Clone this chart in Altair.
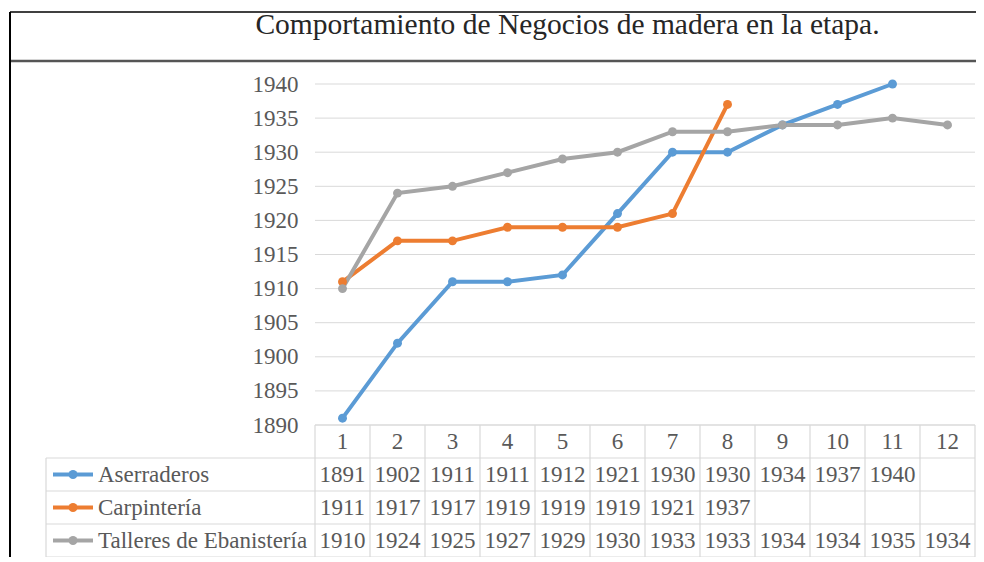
import altair as alt
import pandas as pd

# ---------------- data ----------------
categories = [1, 2, 3, 4, 5, 6, 7, 8, 9, 10, 11, 12]
series_names = ["Aserraderos", "Carpintería", "Talleres de Ebanistería"]
aserraderos = [1891, 1902, 1911, 1911, 1912, 1921, 1930, 1930, 1934, 1937, 1940]
carpinteria = [1911, 1917, 1917, 1919, 1919, 1919, 1921, 1937]
talleres = [1910, 1924, 1925, 1927, 1929, 1930, 1933, 1933, 1934, 1934, 1935, 1934]
y_ticks = [1890, 1895, 1900, 1905, 1910, 1915, 1920, 1925, 1930, 1935, 1940]
colors = ["#5b9bd5", "#ed7d31", "#a5a5a5"]
title_text = "Comportamiento de Negocios de madera en la etapa."

# ---------------- layout (pixels) ----------------
COL_W = 55
N = len(categories)
LEG_W = 269
PLOT_H = 341
ROW_H = 33
N_ROWS = 1 + len(series_names)
W = LEG_W + N * COL_W
H = PLOT_H + N_ROWS * ROW_H
L = LEG_W / COL_W  # legend column width in column units

FONT = "'Liberation Serif', 'Times New Roman', 'DejaVu Serif', serif"
FS = 23
TXT = "#595959"
GRID = "#d9d9d9"

series_values = [aserraderos, carpinteria, talleres]

long_rows = []
for s, (name, vals) in enumerate(zip(series_names, series_values)):
    for c, v in zip(categories, vals):
        long_rows.append({"series": name, "cat": c, "pos": c - 0.5, "value": v})
df_lines = pd.DataFrame(long_rows)

x_scale = alt.Scale(domain=[-L, N], range=[0, W], nice=False, zero=False)
color_scale = alt.Scale(domain=series_names, range=colors)

# ---------------- line chart ----------------
y_scale = alt.Scale(domain=[y_ticks[0], y_ticks[-1]], range=[PLOT_H, 0], nice=False, zero=False)

df_grid = pd.DataFrame({"tick": y_ticks, "x0": 0, "x1": N})
grid = alt.Chart(df_grid).mark_rule(color=GRID, strokeWidth=1).encode(
    x=alt.X("x0:Q", scale=x_scale, axis=None),
    x2="x1:Q",
    y=alt.Y("tick:Q", scale=y_scale,
            axis=alt.Axis(values=y_ticks, grid=False, domain=False, ticks=False, tickSize=0,
                          labelPadding=17, offset=-LEG_W, labelFont=FONT, labelFontSize=FS,
                          labelColor=TXT, title=None, format="d")),
)

lines = alt.Chart(df_lines).mark_line(strokeWidth=4).encode(
    x=alt.X("pos:Q", scale=x_scale, axis=None),
    y=alt.Y("value:Q", scale=y_scale),
    color=alt.Color("series:N", scale=color_scale, legend=None),
    detail="series:N",
)
points = alt.Chart(df_lines).mark_point(filled=True, size=80, opacity=1).encode(
    x=alt.X("pos:Q", scale=x_scale, axis=None),
    y=alt.Y("value:Q", scale=y_scale),
    color=alt.Color("series:N", scale=color_scale, legend=None),
)
line_block = alt.layer(grid, lines, points)

# ---------------- data table ----------------
t_scale = alt.Scale(domain=[0, N_ROWS], range=[PLOT_H, H], nice=False, zero=False)

cell_rows = []
for c in categories:
    cell_rows.append({"x": c - 0.5, "r": 0.5, "label": str(c)})
for s, vals in enumerate(series_values):
    for c, v in zip(categories, vals):
        cell_rows.append({"x": c - 0.5, "r": s + 1.5, "label": str(v)})
df_cells = pd.DataFrame(cell_rows)

rule_rows = []
for r in range(N_ROWS + 1):
    rule_rows.append({"x": 0 if r == 0 else -L, "x2": N, "r": r, "r2": r})
for c in range(N + 1):
    rule_rows.append({"x": c, "x2": c, "r": 0, "r2": N_ROWS})
rule_rows.append({"x": -L, "x2": -L, "r": 1, "r2": N_ROWS})
df_rules = pd.DataFrame(rule_rows)

table_rules = alt.Chart(df_rules).mark_rule(color=GRID, strokeWidth=1.2).encode(
    x=alt.X("x:Q", scale=x_scale, axis=None),
    x2="x2:Q",
    y=alt.Y("r:Q", scale=t_scale, axis=None),
    y2="r2:Q",
)
table_text = alt.Chart(df_cells).mark_text(font=FONT, fontSize=FS, color=TXT, baseline="middle",
                                           align="center").encode(
    x=alt.X("x:Q", scale=x_scale, axis=None),
    y=alt.Y("r:Q", scale=t_scale, axis=None),
    text="label:N",
)

df_leg = pd.DataFrame({"series": series_names,
                       "r": [i + 1.5 for i in range(len(series_names))],
                       "x": [-L] * len(series_names)})
leg_line = alt.Chart(df_leg).mark_rule(strokeWidth=4).encode(
    x=alt.value(7), x2=alt.value(47),
    y=alt.Y("r:Q", scale=t_scale, axis=None),
    color=alt.Color("series:N", scale=color_scale, legend=None),
)
leg_dot = alt.Chart(df_leg).mark_point(filled=True, size=80, opacity=1).encode(
    x=alt.value(27),
    y=alt.Y("r:Q", scale=t_scale, axis=None),
    color=alt.Color("series:N", scale=color_scale, legend=None),
)
leg_text = alt.Chart(df_leg).mark_text(font=FONT, fontSize=FS, color=TXT, align="left",
                                       baseline="middle", dx=52).encode(
    x=alt.X("x:Q", scale=x_scale, axis=None),
    y=alt.Y("r:Q", scale=t_scale, axis=None),
    text="series:N",
)
table_block = alt.layer(table_rules, table_text, leg_line, leg_dot, leg_text)

# ---------------- outer frame and title ----------------
frame_df = pd.DataFrame({"t": [title_text]})
top_line = alt.Chart(frame_df).mark_rule(color="#000000", strokeWidth=1.5).encode(
    x=alt.value(-36), x2=alt.value(W + 1), y=alt.value(-72))
mid_line = alt.Chart(frame_df).mark_rule(color="#555555", strokeWidth=2.5).encode(
    x=alt.value(-36), x2=alt.value(W + 1), y=alt.value(-23))
left_line = alt.Chart(frame_df).mark_rule(color="#000000", strokeWidth=2).encode(
    x=alt.value(-36), y=alt.value(-72), y2=alt.value(H + 20))
title = alt.Chart(frame_df).mark_text(font=FONT, fontSize=29.5, color="#262626", align="center",
                                      baseline="alphabetic").encode(
    x=alt.value(W / 2 + 57), y=alt.value(-50), text="t:N")
frame_block = alt.layer(top_line, mid_line, left_line, title)

chart = alt.layer(frame_block, line_block, table_block).resolve_scale(
    y="independent"
).properties(
    width=W,
    height=H,
    autosize=alt.AutoSizeParams(type="none"),
    padding={"left": 38, "top": 76, "right": 1, "bottom": 0},
).configure(
    background="white",
    view=alt.ViewConfig(strokeWidth=0, stroke="transparent"),
)

chart.save("out.html", embed_options={"renderer": "svg", "actions": False})
